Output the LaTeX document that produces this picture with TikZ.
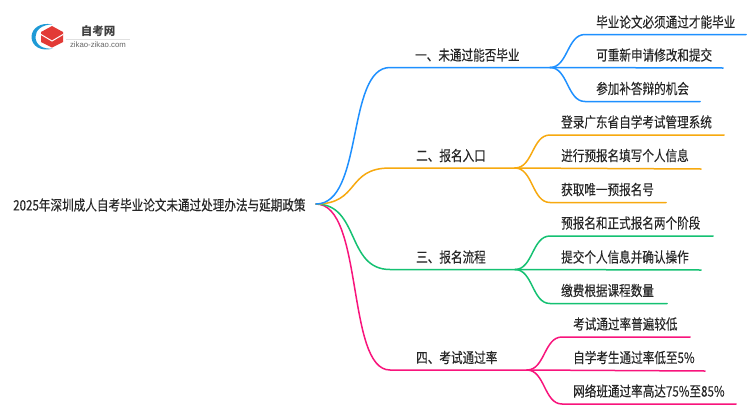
\documentclass[tikz,border=0pt]{standalone}
\usepackage{fontspec}
\newfontfamily\cjk[FakeStretch=0.805,FakeBold=0.15]{Noto Sans CJK SC}
\newfontfamily\cjkb{Noto Sans CJK SC}
\setsansfont{Liberation Sans}
\definecolor{cblue}{HTML}{1E90FF}
\definecolor{corange}{HTML}{F7A90F}
\definecolor{cgreen}{HTML}{14C172}
\definecolor{cpink}{HTML}{F8147C}
\definecolor{clogoblue}{HTML}{1E9AD6}
\definecolor{clogored}{HTML}{E23A36}
\tikzset{
  lbl/.style={anchor=west,inner sep=0pt,font=\cjk\fontsize{14.4}{14.4}\selectfont,text=black!85},
  conn/.style={line width=1.5pt,line cap=round}
}
\begin{document}
\begin{tikzpicture}[x=1pt,y=-1pt]
\useasboundingbox (0,0) rectangle (750,410);
\fill[white] (0,0) rectangle (750,410);
% logo
\fill[clogoblue] (52,24.5) .. controls (41,22) and (31.5,28) .. (31.5,37) .. controls (31.5,46) and (41,52) .. (53,48.5) .. controls (43,49.5) and (35.5,45) .. (35.5,37) .. controls (35.5,30) and (42,24.5) .. (52,24.5) -- cycle;
\fill[clogored] (52,26) -- (63,32) -- (63,42) -- (52,47.5) -- (41,42) -- (41,32) -- cycle;
\draw[white,line width=1pt] (41,34.5) -- (52,41) -- (63,34.5);
\node[anchor=center,inner sep=0pt,font=\cjkb\bfseries\fontsize{11.5}{11.5}\selectfont,text=black!75] (logotitle) at (98,31) {自考网};
\draw[black!12,line width=.6pt] (66,39.5) -- (130,39.5);
\node[anchor=center,inner sep=0pt,font=\sffamily\fontsize{7.8}{7.8}\selectfont,text=black!60] (logourl) at (98,45) {zikao-zikao.com};
% root
\node[lbl] (root) at (13,205) {2025年深圳成人自考毕业论文未通过处理办法与延期政策};
\coordinate (r) at (316,204);
% coordinates
\coordinate (A) at (390,67.5); \coordinate (Ae) at (550,67.5);
\coordinate (B) at (390,168); \coordinate (Be) at (515,168);
\coordinate (C) at (390,269.5); \coordinate (Ce) at (515,269.5);
\coordinate (D) at (390,370); \coordinate (De) at (527,370);
\coordinate (A1) at (585,34.5); \coordinate (A1e) at (746,34.5);
\coordinate (A2e) at (723,68);
\coordinate (A3) at (585,101.5); \coordinate (A3e) at (700,101.5);
\coordinate (B1) at (550,135); \coordinate (B1e) at (724,135);
\coordinate (B2e) at (701,169);
\coordinate (B3) at (550,202.5); \coordinate (B3e) at (666,202.5);
\coordinate (C1) at (550,236); \coordinate (C1e) at (713,236);
\coordinate (C2e) at (701,270);
\coordinate (C3) at (550,303.5); \coordinate (C3e) at (667,303.5);
\coordinate (D1) at (562,337); \coordinate (D1e) at (690,337);
\coordinate (D2e) at (705,371);
\coordinate (D3) at (562,404); \coordinate (D3e) at (736,404);
% main branches
\draw[conn,cpink] (r) .. controls (364,204) and (346,370) .. (D) -- (De);
\draw[conn,cgreen] (r) .. controls (360,204) and (346,269.5) .. (C) -- (Ce);
\draw[conn,corange] (r) .. controls (360,204) and (346,168) .. (B) -- (Be);
\draw[conn,cblue] (r) .. controls (364,204) and (346,67.5) .. (A) -- (Ae);
% sub branches
\draw[conn,cblue] (Ae) .. controls (568,67.5) and (567,34.5) .. (A1) -- (A1e);
\draw[conn,cblue] (Ae) -- (A2e);
\draw[conn,cblue] (Ae) .. controls (568,67.5) and (567,101.5) .. (A3) -- (A3e);
\draw[conn,corange] (Be) .. controls (533,168) and (532,135) .. (B1) -- (B1e);
\draw[conn,corange] (Be) -- (B2e);
\draw[conn,corange] (Be) .. controls (533,168) and (532,202.5) .. (B3) -- (B3e);
\draw[conn,cgreen] (Ce) .. controls (533,269.5) and (532,236) .. (C1) -- (C1e);
\draw[conn,cgreen] (Ce) -- (C2e);
\draw[conn,cgreen] (Ce) .. controls (533,269.5) and (532,303.5) .. (C3) -- (C3e);
\draw[conn,cpink] (De) .. controls (545,370) and (544,337) .. (D1) -- (D1e);
\draw[conn,cpink] (De) -- (D2e);
\draw[conn,cpink] (De) .. controls (545,370) and (544,404) .. (D3) -- (D3e);
% labels
\node[lbl] (ta) at (415,55) {一、未通过能否毕业};
\node[lbl] (tb) at (416,155.5) {二、报名入口};
\node[lbl] (tc) at (416,257) {三、报名流程};
\node[lbl] (td) at (416,357.5) {四、考试通过率};
\node[lbl] (a1) at (596,22) {毕业论文必须通过才能毕业};
\node[lbl] (a2) at (596,55) {可重新申请修改和提交};
\node[lbl] (a3) at (596,88.5) {参加补答辩的机会};
\node[lbl] (b1) at (561,122) {登录广东省自学考试管理系统};
\node[lbl] (b2) at (561,155.5) {进行预报名填写个人信息};
\node[lbl] (b3) at (561,189.5) {获取唯一预报名号};
\node[lbl] (c1) at (561,223) {预报名和正式报名两个阶段};
\node[lbl] (c2) at (561,257) {提交个人信息并确认操作};
\node[lbl] (c3) at (561,290.5) {缴费根据课程数量};
\node[lbl] (d1) at (573,324) {考试通过率普遍较低};
\node[lbl] (d2) at (573,357.5) {自学考生通过率低至5\%};
\node[lbl] (d3) at (573,391) {网络班通过率高达75\%至85\%};
\end{tikzpicture}
\end{document}
